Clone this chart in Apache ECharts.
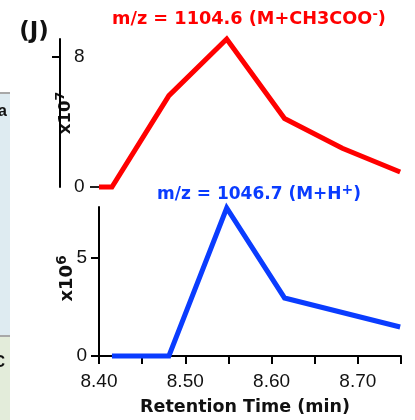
<!DOCTYPE html>
<html>
<head>
<meta charset="utf-8">
<script src="https://cdn.jsdelivr.net/npm/echarts@6/dist/echarts.min.js"></script>
<style>html,body{margin:0;padding:0;background:#fff;}#c{width:415px;height:420px;}</style>
</head>
<body>
<div id="c"></div>
<script>
// Retention times (min) and intensities (in axis units: x10^7 for red, x10^6 for blue)
const timeRed = [8.400, 8.415, 8.481, 8.548, 8.615, 8.682, 8.749];
const redValues = [0, 0, 5.62, 9.10, 4.21, 2.38, 0.92];
const timeBlue = [8.415, 8.481, 8.548, 8.615, 8.749];
const blueValues = [0, 0, 7.55, 2.96, 1.48];
const xTickValues = [8.40, 8.45, 8.50, 8.55, 8.60, 8.65, 8.70, 8.75];
const xLabelValues = [8.40, 8.50, 8.60, 8.70];
const redTickValues = [0, 8];
const blueTickValues = [0, 5];
const redTitle = 'm/z = 1104.6 (M+CH3COO';
const blueTitle = 'm/z = 1046.7 (M+H';

const RED = '#ff0000';
const BLUE = '#0a3cff';
const AX = '#000';
const boldFont = 'DejaVu Sans';
const tickFont = 'Liberation Sans';

const chart = echarts.init(document.getElementById('c'), null, {renderer: 'canvas'});

function pairs(xs, ys) { return xs.map((x, i) => [x, ys[i]]); }

const supRich = (color, big, small) => ({
  n: {fontFamily: boldFont, fontWeight: 'bold', fontSize: big, color: color, lineHeight: big + 3, verticalAlign: 'bottom'},
  s: {fontFamily: boldFont, fontWeight: 'bold', fontSize: small, color: color, lineHeight: small, verticalAlign: 'top'}
});

const xBase = {
  type: 'value', min: 8.40, max: 8.75
};

const option = {
  animation: false,
  backgroundColor: '#fff',
  title: [
    {
      text: '{n|' + redTitle + '}{s|-}{n|)}',
      left: 112, top: 8, padding: 0,
      textStyle: {rich: supRich(RED, 17.7, 13)}
    },
    {
      text: '{n|' + blueTitle + '}{s|+}{n|)}',
      left: 157, top: 183, padding: 0,
      textStyle: {rich: supRich(BLUE, 17, 14)}
    }
  ],
  grid: [
    {left: 99, right: 14, top: 39, height: 148},
    {left: 99, right: 14, top: 207, height: 149}
  ],
  xAxis: [
    Object.assign({}, xBase, {gridIndex: 0, show: false}),
    Object.assign({}, xBase, {
      gridIndex: 1,
      axisLine: {show: true, onZero: false, lineStyle: {color: AX, width: 2}},
      axisTick: {show: true, length: 8, lineStyle: {color: AX, width: 2}, customValues: xTickValues},
      axisLabel: {
        customValues: xLabelValues, margin: 16,
        fontFamily: tickFont, fontSize: 19, color: '#111',
        formatter: v => v.toFixed(2)
      },
      splitLine: {show: false},
      name: 'Retention Time (min)', nameLocation: 'middle', nameGap: 42, nameMoveOverlap: false,
      nameTextStyle: {fontFamily: boldFont, fontWeight: 'bold', fontSize: 17.5, color: '#111', padding: [0, 10, 0, 0]}
    })
  ],
  yAxis: [
    {
      type: 'value', gridIndex: 0, min: 0, max: 9.1, position: 'left', offset: 39,
      axisLine: {show: true, lineStyle: {color: AX, width: 2}},
      axisTick: {show: true, length: 8, lineStyle: {color: AX, width: 2}, customValues: [8]},
      axisLabel: {inside: true, margin: 14, customValues: redTickValues, fontFamily: tickFont, fontSize: 19, color: '#111'},
      splitLine: {show: false},
      name: '{n|x10}{s|7}', nameLocation: 'middle', nameGap: -14, nameRotate: 90, nameMoveOverlap: false,
      nameTextStyle: {rich: supRich('#111', 16.5, 12.5)}
    },
    {
      type: 'value', gridIndex: 0, min: 0, max: 9.1, position: 'left', offset: 0,
      axisLine: {show: false},
      axisTick: {show: true, length: 9, lineStyle: {color: '#222', width: 2}, customValues: [0]},
      axisLabel: {show: false},
      splitLine: {show: false}
    },
    {
      type: 'value', gridIndex: 1, min: 0, max: 7.6, position: 'left',
      axisLine: {show: true, onZero: false, lineStyle: {color: AX, width: 2}},
      axisTick: {show: true, length: 8, lineStyle: {color: AX, width: 2}, customValues: blueTickValues},
      axisLabel: {margin: 12, customValues: blueTickValues, fontFamily: tickFont, fontSize: 19, color: '#111'},
      splitLine: {show: false},
      name: '{n|x10}{s|6}', nameLocation: 'middle', nameGap: 23, nameRotate: 90, nameMoveOverlap: false,
      nameTextStyle: {rich: supRich('#111', 18, 13.5), padding: [0, 0, 0, 6]}
    }
  ],
  series: [
    {
      type: 'line', xAxisIndex: 0, yAxisIndex: 0, data: pairs(timeRed, redValues),
      symbol: 'none', lineStyle: {color: RED, width: 5, join: 'miter'}, clip: false
    },
    {
      type: 'line', xAxisIndex: 1, yAxisIndex: 2, data: pairs(timeBlue, blueValues),
      symbol: 'none', lineStyle: {color: BLUE, width: 5, join: 'miter'}, clip: false
    }
  ],
  graphic: [
    {type: 'rect', shape: {x: 0, y: 94, width: 10, height: 241}, style: {fill: '#deebf1'}, silent: true},
    {type: 'rect', shape: {x: 0, y: 92, width: 10, height: 2}, style: {fill: '#a8a8a8'}, silent: true},
    {type: 'rect', shape: {x: 0, y: 337, width: 10, height: 83}, style: {fill: '#e3ecda'}, silent: true},
    {type: 'rect', shape: {x: 0, y: 335, width: 10, height: 2}, style: {fill: '#a8a8a8'}, silent: true},
    {type: 'text', x: 7, y: 112, style: {text: 'a', fill: '#111', font: 'bold 16px "Liberation Sans"', textAlign: 'right', textVerticalAlign: 'middle'}, silent: true},
    {type: 'text', x: 5, y: 363, style: {text: 'C', fill: '#111', font: 'bold 16px "Liberation Sans"', textAlign: 'right', textVerticalAlign: 'middle'}, silent: true},
    {type: 'text', x: 34, y: 32, style: {text: '(J)', fill: '#111', font: 'bold 23px "DejaVu Sans"', textAlign: 'center', textVerticalAlign: 'middle'}, silent: true}
  ]
};

chart.setOption(option);
</script>
</body>
</html>
